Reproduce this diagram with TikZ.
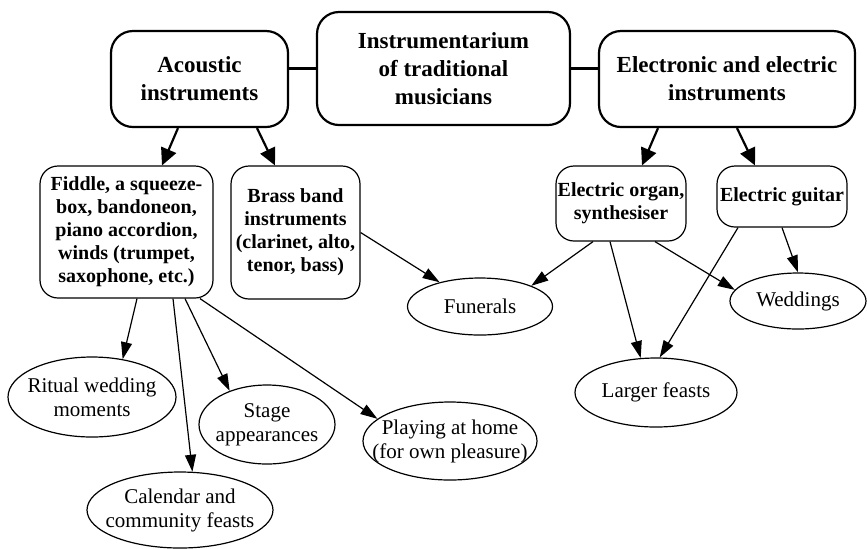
\documentclass[tikz,border=0pt]{standalone}
\usepackage{fontspec}
\setmainfont{Liberation Serif}
\usepackage{tikz}
\usetikzlibrary{arrows.meta,shapes.geometric}

\begin{document}
\begin{tikzpicture}[
    x=0.5pt, y=-0.5pt,
    mainbox/.style={draw, rectangle, rounded corners=11pt, line width=1.1pt, inner sep=0pt, align=center, font=\fontsize{11.5}{14}\selectfont\bfseries},
    subbox/.style={draw, rectangle, rounded corners=9pt, line width=0.6pt, inner sep=0pt, align=center, font=\fontsize{10}{11.5}\selectfont\bfseries},
    use/.style={draw, ellipse, line width=0.6pt, inner xsep=-10pt, inner ysep=0pt, align=center, font=\fontsize{10.5}{12}\selectfont},
    bigarr/.style={line width=1.1pt, -{Triangle[length=8.5pt,width=8pt]}},
    arr/.style={line width=0.6pt, -{Triangle[length=8.5pt,width=5.5pt]}}
]
  \useasboundingbox (0,0) rectangle (867,548);

  % Top row
  \node[mainbox, minimum width=126.5pt, minimum height=56.5pt] (main) at (443.5,68.5) {Instrumentarium\\of traditional\\musicians};
  \node[mainbox, minimum width=88.5pt, minimum height=48pt] (acoustic) at (199.5,79) {Acoustic\\instruments};
  \node[mainbox, minimum width=128pt, minimum height=48pt] (electronic) at (727,79) {Electronic and electric\\instruments};

  % Instrument groups
  \node[subbox, minimum width=86.5pt, minimum height=66pt] (fiddle) at (126.5,232) {Fiddle, a squeeze-\\box, bandoneon,\\piano accordion,\\winds (trumpet,\\saxophone, etc.)};
  \node[subbox, minimum width=64.5pt, minimum height=66.5pt] (brass) at (295.5,232.5) {Brass band\\instruments\\(clarinet, alto,\\tenor, bass)};
  \node[subbox, minimum width=65pt, minimum height=37.5pt] (organ) at (621,203.5) {Electric organ,\\synthesiser};
  \node[subbox, minimum width=65pt, minimum height=30.5pt] (guitar) at (782,196.5) {Electric guitar};

  % Occasions
  \node[use, minimum width=72.5pt, minimum height=28.5pt] (funerals) at (480,306.5) {Funerals};
  \node[use, minimum width=68pt, minimum height=28pt] (weddings) at (798,301) {Weddings};
  \node[use, minimum width=81pt, minimum height=34.5pt] (larger) at (656,392.5) {Larger feasts};
  \node[use, minimum width=84pt, minimum height=40pt] (ritual) at (92,397) {Ritual wedding\\moments};
  \node[use, minimum width=68pt, minimum height=39.5pt] (stage) at (267,424.5) {Stage\\appearances};
  \node[use, minimum width=93pt, minimum height=38pt] (calendar) at (180,510) {Calendar and\\community feasts};
  \node[use, minimum width=87pt, minimum height=39pt] (playing) at (450,441) {Playing at home\\(for own pleasure)};

  % Links to the centre
  \draw[line width=1.1pt] (main.west) -- (main.west -| acoustic.east);
  \draw[line width=1.1pt] (main.east) -- (main.east -| electronic.west);

  % Groups
  \draw[bigarr] ([xshift=-10.75pt]acoustic.south) -- ([xshift=17.75pt]fiddle.north);
  \draw[bigarr] ([xshift=28.75pt]acoustic.south) -- ([xshift=-10.25pt]brass.north);
  \draw[bigarr] ([xshift=-34.5pt]electronic.south) -- ([xshift=10.5pt]organ.north);
  \draw[bigarr] ([xshift=5pt]electronic.south) -- ([xshift=-13.5pt]guitar.north);

  % Acoustic uses
  \draw[arr] ([xshift=5.25pt]fiddle.south) -- (ritual.51);
  \draw[arr] ([xshift=23.25pt]fiddle.south) -- (calendar.72);
  \draw[arr] ([xshift=29.25pt]fiddle.south) -- (stage.138);
  \draw[arr] ([xshift=36.75pt]fiddle.south) -- (playing.163);
  \draw[arr] (brass.east) -- (funerals.149);

  % Electric uses
  \draw[arr] ([xshift=-14pt]organ.south) -- (funerals.22);
  \draw[arr] ([xshift=-5.5pt]organ.south) -- (larger.114);
  \draw[arr] ([xshift=17pt]organ.south) -- (weddings.170);
  \draw[arr] ([xshift=-22pt]guitar.south) -- (larger.84);
  \draw[arr] (guitar.south) -- (weddings.north);
\end{tikzpicture}
\end{document}
